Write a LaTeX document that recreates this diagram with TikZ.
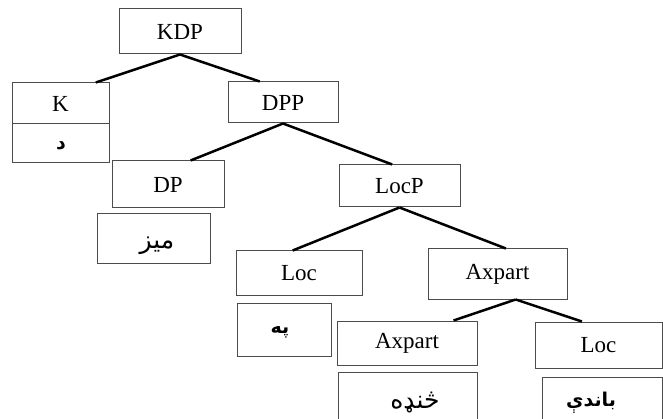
\documentclass[tikz,border=0pt]{standalone}
\usepackage{fontspec}
\setmainfont{Liberation Serif}
\newfontfamily\arabicfont[Script=Arabic]{DejaVu Sans}
\TeXXeTstate=1
\usetikzlibrary{calc}
\begin{document}
\begin{tikzpicture}[x=1pt,y=-1pt,
  box/.style={draw=black!70, line width=1pt, rectangle, inner sep=0pt, font=\fontsize{23}{25}\selectfont},
  artext/.style={font=\fontsize{25}{27}\selectfont\arabicfont},
  arbold/.style={font=\fontsize{19}{21}\selectfont\arabicfont\bfseries},
  conn/.style={line width=2.5pt, black}]
\useasboundingbox (0,0) rectangle (663,419);
% nodes
\node[box, minimum width=122pt, minimum height=45pt] (KDP) at (180,31.5) {KDP};
\node[box, minimum width=97pt, minimum height=41pt] (K) at (60.5,103.5) {K};
\node[box, minimum width=97pt, minimum height=39pt] (Kd) at (60.5,143.5) {};
\node[arbold] (Kdt) at (61,146) {\beginR د\endR};
\node[box, minimum width=110pt, minimum height=41pt] (DPP) at (283,102.5) {DPP};
\node[box, minimum width=112pt, minimum height=47pt] (DP) at (168,184.5) {DP};
\node[box, minimum width=113pt, minimum height=50pt] (miz) at (153.5,239) {};
\node[artext] (mizt) at (157,246) {\beginR میز\endR};
\node[box, minimum width=121pt, minimum height=42pt] (LocP) at (399.5,186) {LocP};
\node[box, minimum width=126pt, minimum height=44pt] (Loc) at (299,273) {Loc};
\node[box, minimum width=139pt, minimum height=50pt] (Ax) at (497.5,274) {Axpart};
\node[box, minimum width=94pt, minimum height=53pt] (pa) at (284,329.5) {};
\node[arbold] (pat) at (280,332) {\beginR په\endR};
\node[box, minimum width=140pt, minimum height=44pt] (Ax2) at (407,343) {Axpart};
\node[box, minimum width=127pt, minimum height=46pt] (Loc2) at (598.5,345) {Loc};
\node[box, minimum width=139pt, minimum height=52pt] (khanda) at (407.5,398) {};
\node[artext] (khandat) at (415,403) {\beginR څنډه\endR};
\node[box, minimum width=120pt, minimum height=47pt] (bande) at (602,400.5) {};
\node[arbold] (bandet) at (591,403) {\beginR باندې\endR};
% connectors
\draw[conn] (KDP.south) -- ($(K.north west)!0.86!(K.north east)$);
\draw[conn] (KDP.south) -- ($(DPP.north west)!0.29!(DPP.north east)$);
\draw[conn] (DPP.south) -- ($(DP.north west)!0.7!(DP.north east)$);
\draw[conn] (DPP.south) -- ($(LocP.north west)!0.44!(LocP.north east)$);
\draw[conn] (LocP.south) -- ($(Loc.north west)!0.45!(Loc.north east)$);
\draw[conn] (LocP.south) -- ($(Ax.north west)!0.56!(Ax.north east)$);
\coordinate (axapex) at ($(Ax.south west)!0.63!(Ax.south east)$);
\draw[conn] (axapex) -- ($(Ax2.north west)!0.83!(Ax2.north east)$);
\draw[conn] (axapex) -- ($(Loc2.north west)!0.37!(Loc2.north east)$);
\end{tikzpicture}
\end{document}
